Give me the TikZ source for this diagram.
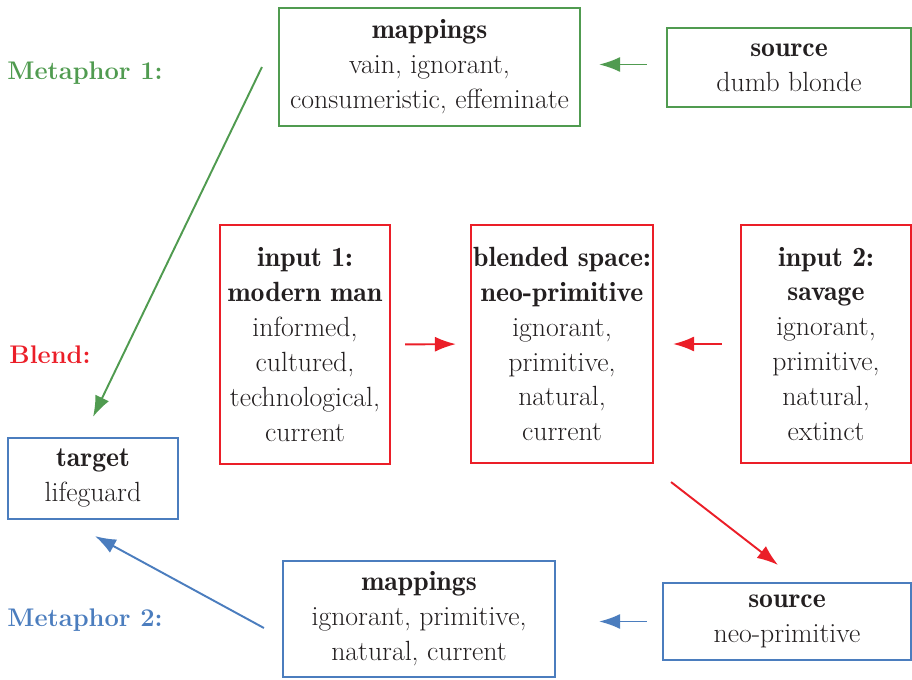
\documentclass[tikz,border=0pt]{standalone}
\usepackage{tikz}
\usetikzlibrary{arrows.meta}

\definecolor{mgreen}{RGB}{80,155,80}
\definecolor{mred}{RGB}{235,30,40}
\definecolor{mblue}{RGB}{75,125,190}
\definecolor{ink}{RGB}{35,31,32}

\newcommand{\hd}[1]{{\fontseries{b}\selectfont #1}}

\tikzset{
  box/.style={draw, line width=1.2pt, align=center, inner xsep=1pt, inner ysep=2pt,
    text=ink, font=\fontsize{15.8}{19.9}\selectfont},
  lbl/.style={font=\fontsize{14.5}{18}\selectfont\bfseries},
  link/.style={line width=1.1pt, -{Latex[length=0.42cm,width=0.3cm]}}
}

\begin{document}
\begin{tikzpicture}
\useasboundingbox (0,0) rectangle (18.24,-13.6);
% metaphor 1
\node[lbl, text=mgreen] (met1) at (1.70,-1.46) {Metaphor 1:};
\node[box, draw=mgreen, minimum width=6.02cm, minimum height=2.36cm] (map1) at (8.59,-1.34)
  {\hd{mappings}\\vain, ignorant,\\consumeristic, effeminate};
\node[box, draw=mgreen, minimum width=4.88cm, minimum height=1.58cm] (src1) at (15.78,-1.35)
  {\hd{source}\\dumb blonde};
%
% blend
\node[lbl, text=mred] (blendlbl) at (1.00,-7.10) {Blend:};
\node[box, draw=mred, minimum width=3.40cm, minimum height=4.78cm] (in1) at (6.10,-6.89)
  {\hd{input 1:}\\\hd{modern man}\\informed,\\cultured,\\technological,\\current};
\node[box, draw=mred, minimum width=3.64cm, minimum height=4.76cm] (blend) at (11.24,-6.88)
  {\hd{blended space:}\\\hd{neo-primitive}\\ignorant,\\primitive,\\natural,\\current};
\node[box, draw=mred, minimum width=3.40cm, minimum height=4.76cm] (in2) at (16.52,-6.88)
  {\hd{input 2:}\\\hd{savage}\\ignorant,\\primitive,\\natural,\\extinct};
%
% metaphor 2
\node[box, draw=mblue, minimum width=3.40cm, minimum height=1.62cm] (target) at (1.86,-9.57)
  {\hd{target}\\lifeguard};
\node[lbl, text=mblue] (met2) at (1.70,-12.40) {Metaphor 2:};
\node[box, draw=mblue, minimum width=5.44cm, minimum height=2.32cm] (map2) at (8.38,-12.38)
  {\hd{mappings}\\ignorant, primitive,\\natural, current};
\node[box, draw=mblue, minimum width=4.96cm, minimum height=1.54cm] (src2) at (15.74,-12.43)
  {\hd{source}\\neo-primitive};
%
\coordinate (g1) at ([xshift=-0.32cm]map1.west);
\coordinate (g2) at ([yshift=0.40cm]target.north);
\coordinate (r1) at ([shift={(0.34,-0.36)}]blend.south east);
\coordinate (r2) at ([shift={(-0.18,0.34)}]src2.north);
\coordinate (b1) at ([shift={(-0.36,-0.18)}]map2.west);
\coordinate (b2) at ([shift={(0.04,-0.32)}]target.south);
%
\draw[link, mgreen, shorten <=0.38cm, shorten >=0.36cm] ([yshift=0.06cm]src1.west) -- ([yshift=0.06cm]src1.west -| map1.east);
\draw[link, mgreen] (g1) -- (g2);
\draw[link, mred, shorten <=0.28cm, shorten >=0.28cm] (in1.east) -- (blend.west);
\draw[link, mred, shorten <=0.36cm, shorten >=0.38cm] (in2.west) -- (blend.east);
\draw[link, mred] (r1) -- (r2);
\draw[link, mblue, shorten <=0.30cm, shorten >=0.86cm] (src2.west) -- (src2.west -| map2.east);
\draw[link, mblue] (b1) -- (b2);
\end{tikzpicture}
\end{document}
